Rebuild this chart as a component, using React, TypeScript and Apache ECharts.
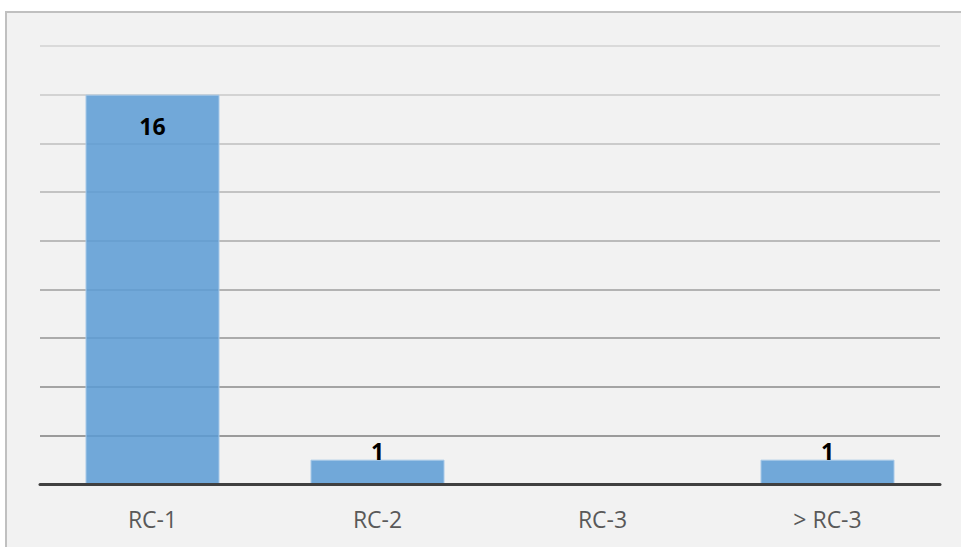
import React, { useEffect, useRef } from "react";
import * as echarts from "echarts";

const categories = ["RC-1", "RC-2", "RC-3", "> RC-3"];
const values = [16, 1, 0, 1];
const yMin = 0;
const yMax = 18;
const yInterval = 2;
const gridColors = [
  "#8c8c8c",
  "#9b9b9b",
  "#a4a4a4",
  "#ababab",
  "#b3b3b3",
  "#bbbbbb",
  "#c3c3c3",
  "#cbcbcb",
  "#d3d3d3",
  "#dadada",
];

export default function App() {
  const ref = useRef<HTMLDivElement>(null);
  useEffect(() => {
    if (!ref.current) return;
    const chart = echarts.init(ref.current, undefined, { renderer: "svg" });
    const font = "'Open Sans', 'Noto Sans', sans-serif";
    chart.setOption({
      animation: false,
      backgroundColor: "#ffffff",
      graphic: [
        {
          type: "rect",
          z: -10,
          silent: true,
          shape: { x: 6, y: 12, width: 1000, height: 600 },
          style: { fill: "#f2f2f2", stroke: "#c0c0c0", lineWidth: 2 },
        },
      ],
      grid: { left: 40, right: 21, top: 46, bottom: 63 },
      xAxis: {
        type: "category",
        data: categories,
        axisTick: { show: false },
        axisLine: { lineStyle: { color: "#404040", width: 3 } },
        axisLabel: {
          color: "#595959",
          fontSize: 23,
          fontFamily: font,
          margin: 23,
        },
        z: 5,
      },
      yAxis: {
        type: "value",
        min: yMin,
        max: yMax,
        interval: yInterval,
        axisLabel: { show: false },
        axisLine: { show: false },
        axisTick: { show: false },
        splitLine: { lineStyle: { color: gridColors, width: 2 } },
      },
      series: [
        {
          type: "bar",
          barWidth: 134,
          itemStyle: {
            color: "rgba(91,155,213,0.85)",
            borderColor: "#a8c9e8",
            borderWidth: 1,
          },
          data: values.map((v) => ({
            value: v,
            label:
              v === 0
                ? { show: false }
                : v > 5
                ? {
                    show: true,
                    position: "insideTop",
                    distance: 20,
                    color: "#000000",
                    fontWeight: "bold",
                    fontSize: 23,
                    fontFamily: font,
                  }
                : {
                    show: true,
                    position: "top",
                    distance: -3,
                    color: "#000000",
                    fontWeight: "bold",
                    fontSize: 23,
                    fontFamily: font,
                  },
          })),
        },
      ],
    });
    return () => chart.dispose();
  }, []);
  return (
    <div
      ref={ref}
      style={{ position: "fixed", left: 0, top: 0, width: 961, height: 547 }}
    />
  );
}
